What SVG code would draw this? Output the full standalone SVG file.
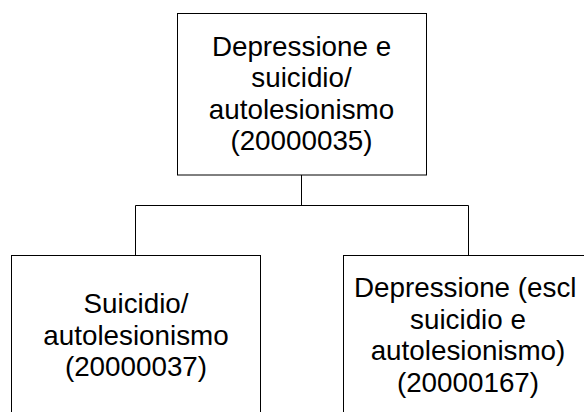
<svg xmlns="http://www.w3.org/2000/svg" width="584" height="412" viewBox="0 0 584 412">
<style>
.box{fill:#fff;stroke:#000;stroke-width:1}
.ln{fill:none;stroke:#000;stroke-width:1}
.t{font-family:"Liberation Sans",Arial,sans-serif;font-size:27.8px;fill:#000;text-anchor:middle}
</style>
<rect width="584" height="412" fill="#fff"/>
<g id="connectors">
<path class="ln" d="M301.5 175V205.5M135.5 255.5V205.5H468.5V255.5"/>
</g>
<g id="n1">
<rect class="box" x="177.5" y="13.5" width="249" height="161.5"/>
<text class="t" x="301.5" y="55.5">Depressione e</text>
<text class="t" x="301.5" y="87">suicidio/</text>
<text class="t" x="301.5" y="118.5">autolesionismo</text>
<text class="t" x="301.5" y="150">(20000035)</text>
</g>
<g id="n2">
<rect class="box" x="11.5" y="255.5" width="249" height="170"/>
<text class="t" x="136" y="313">Suicidio/</text>
<text class="t" x="136" y="344.5">autolesionismo</text>
<text class="t" x="136" y="376">(20000037)</text>
</g>
<g id="n3">
<rect class="box" x="343.5" y="255.5" width="249" height="170"/>
<text class="t" x="354" y="297" style="text-anchor:start">Depressione (escl</text>
<text class="t" x="468" y="328.5">suicidio e</text>
<text class="t" x="468" y="360">autolesionismo)</text>
<text class="t" x="468" y="391.5">(20000167)</text>
</g>
</svg>
